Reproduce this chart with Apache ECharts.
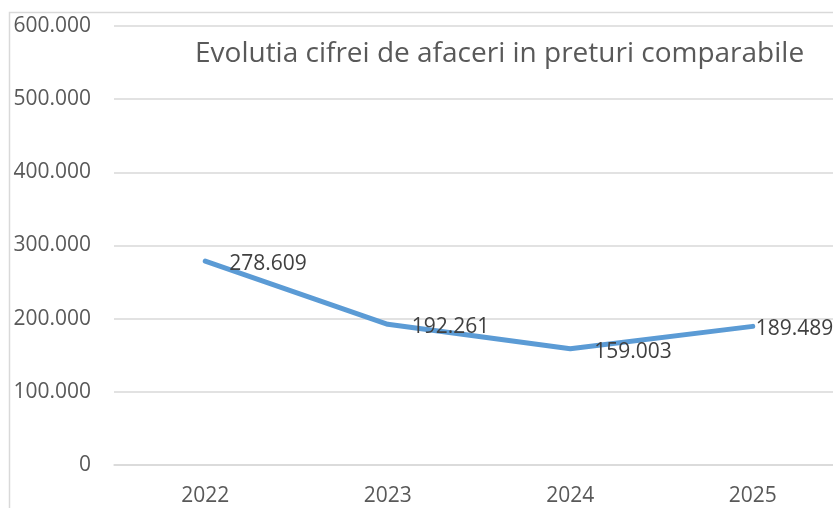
<!DOCTYPE html>
<html>
<head>
<meta charset="utf-8">
<script src="https://cdn.jsdelivr.net/npm/echarts@6/dist/echarts.min.js"></script>
<style>
  html, body { margin: 0; padding: 0; background: #fff; }
  #chart { width: 833px; height: 508px; }
</style>
</head>
<body>
<div id="chart"></div>
<script>
const years = ['2022', '2023', '2024', '2025'];
const cifraAfaceri = [278609, 192261, 159003, 189489];
const yTicks = { min: 0, max: 600000, step: 100000 };

const FONT = '"Open Sans", sans-serif';

// 278609 -> "278.609" (separator de mii romanesc)
const fmt = (v) => String(Math.round(v)).replace(/\B(?=(\d{3})+(?!\d))/g, '.');

const myChart = echarts.init(document.getElementById('chart'));

const seriesData = cifraAfaceri.map((v, i) => {
  const item = { value: v };
  // ultima eticheta e lipita de punct ca sa incapa in cadru
  if (i === cifraAfaceri.length - 1) {
    item.label = { distance: 2 };
  }
  return item;
});

const option = {
  animation: false,
  backgroundColor: '#fff',
  graphic: [
    {
      type: 'rect',
      shape: { x: 9.5, y: 12.5, width: 900, height: 600 },
      style: { fill: 'none', stroke: '#d9d9d9', lineWidth: 1.5 },
      z: -1
    }
  ],
  title: {
    text: 'Evolutia cifrei de afaceri in preturi comparabile',
    left: 190,
    top: 35,
    textStyle: {
      fontFamily: FONT,
      fontSize: 28,
      fontWeight: 'normal',
      color: '#595959'
    }
  },
  grid: {
    left: 114,
    width: 730,
    top: 26,
    bottom: 43,
    containLabel: false,
    outerBoundsMode: 'none'
  },
  xAxis: {
    type: 'category',
    data: years,
    boundaryGap: true,
    axisLine: { show: true, lineStyle: { color: '#d9d9d9', width: 1.5 } },
    axisTick: { show: false },
    axisLabel: {
      color: '#595959',
      fontFamily: FONT,
      fontSize: 21,
      margin: 21
    }
  },
  yAxis: {
    type: 'value',
    min: yTicks.min,
    max: yTicks.max,
    interval: yTicks.step,
    axisLine: { show: false },
    axisTick: { show: false },
    splitLine: { lineStyle: { color: '#d9d9d9', width: 1.5 } },
    axisLabel: {
      color: '#595959',
      fontFamily: FONT,
      fontSize: 21,
      margin: 23,
      formatter: fmt
    }
  },
  series: [
    {
      type: 'line',
      data: seriesData,
      symbol: 'circle',
      symbolSize: 2,
      showSymbol: true,
      itemStyle: { color: '#5b9bd5' },
      lineStyle: { color: '#5b9bd5', width: 5, cap: 'round', join: 'round' },
      label: {
        show: true,
        position: 'right',
        distance: 23,
        offset: [0, 3],
        color: '#404040',
        fontFamily: FONT,
        fontSize: 21,
        formatter: (p) => fmt(p.value)
      }
    }
  ]
};

myChart.setOption(option);
</script>
</body>
</html>
